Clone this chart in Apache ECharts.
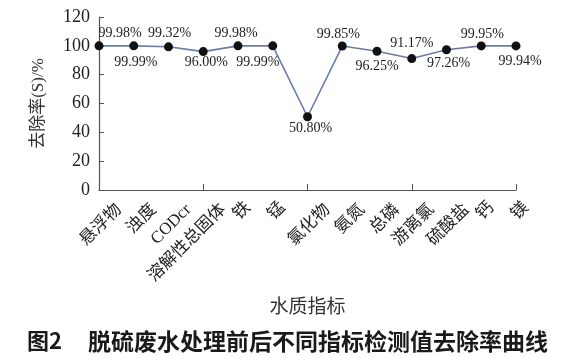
<!DOCTYPE html>
<html>
<head>
<meta charset="utf-8">
<script src="https://cdn.jsdelivr.net/npm/echarts@6/dist/echarts.min.js"></script>
<style>html,body{margin:0;padding:0;background:#fff;}#c{width:574px;height:358px;}</style>
</head>
<body>
<div id="c"></div>
<script>
const categories = ['悬浮物','浊度','CODcr','溶解性总固体','铁','锰','氯化物','氨氮','总磷','游离氯','硫酸盐','钙','镁'];
const removalRates = [99.98, 99.99, 99.32, 96.00, 99.98, 99.99, 50.80, 99.85, 96.25, 91.17, 97.26, 99.95, 99.94];
const yTicks = {min: 0, max: 120, interval: 20};
const yAxisName = '去除率(S)/%';
const xAxisName = '水质指标';
const captionNo = '图2';
const caption = '脱硫废水处理前后不同指标检测值去除率曲线';

// label placement (layout only): [dx, dy] from point centre
const labelOffsets = [[21,-13],[2,16],[1,-13],[3,11],[-2,-13],[-15,16],[3,12],[-4,-12],[0,15],[0,-15],[2,14],[1,-12],[4,15]];

const serif = "'Liberation Serif','Noto Sans CJK SC'";
const cjk = "'Noto Sans CJK SC'";
const axisColor = '#555';
const G = {left: 99, right: 58, top: 17, bottom: 168};
const S_LONG = 20, S_SHORT = 10;

function labelAxis(idx, fmt, margin) {
  return {
    type: 'category', gridIndex: idx, data: categories, boundaryGap: false,
    axisLine: {show: false}, axisTick: {show: false}, splitLine: {show: false},
    axisLabel: {rotate: 45, margin: margin, interval: 0, fontFamily: serif, fontSize: 17, color: '#222', formatter: fmt}
  };
}

const chart = echarts.init(document.getElementById('c'), null, {renderer: 'canvas'});
chart.setOption({
  backgroundColor: '#fff',
  animation: false,
  title: [
    {text: captionNo, left: 22, top: 325, textStyle: {fontFamily: cjk, fontSize: 22, fontWeight: 'bold', color: '#1a1a1a'}},
    {text: caption, left: 83, top: 325, textStyle: {fontFamily: cjk, fontSize: 23, fontWeight: 'bold', color: '#1a1a1a'}}
  ],
  grid: [
    {left: G.left, right: G.right, top: G.top, bottom: G.bottom},
    {left: G.left + S_LONG, right: G.right - S_LONG, top: G.top, bottom: G.bottom},
    {left: G.left + S_SHORT, right: G.right - S_SHORT, top: G.top, bottom: G.bottom}
  ],
  xAxis: [
    {
      type: 'category', gridIndex: 0, data: categories, boundaryGap: false,
      name: xAxisName, nameLocation: 'middle', nameGap: 106,
      nameTextStyle: {fontFamily: cjk, fontSize: 19, color: '#333'},
      axisLine: {lineStyle: {color: axisColor, width: 1.2}},
      axisTick: {inside: true, length: 6, lineStyle: {color: axisColor}},
      axisLabel: {show: false},
      splitLine: {show: false}
    },
    labelAxis(1, v => v.length > 1 ? v : '', 17),
    labelAxis(2, v => v.length === 1 ? v : '', 15)
  ],
  yAxis: [
    {
      type: 'value', gridIndex: 0, min: yTicks.min, max: yTicks.max, interval: yTicks.interval,
      name: yAxisName, nameLocation: 'middle', nameGap: 52, nameRotate: 90,
      nameTextStyle: {fontFamily: serif, fontSize: 17, color: '#333'},
      axisLine: {show: true, lineStyle: {color: axisColor, width: 1.2}},
      axisTick: {show: true, inside: true, length: 5, lineStyle: {color: axisColor}},
      axisLabel: {margin: 9, fontFamily: serif, fontSize: 18, color: '#222'},
      splitLine: {show: false}
    },
    {type: 'value', gridIndex: 1, min: yTicks.min, max: yTicks.max, show: false},
    {type: 'value', gridIndex: 2, min: yTicks.min, max: yTicks.max, show: false}
  ],
  series: [{
    type: 'line', xAxisIndex: 0, yAxisIndex: 0,
    data: removalRates.map((v, i) => ({
      value: v,
      label: {offset: labelOffsets[i]}
    })),
    symbol: 'circle', symbolSize: 9,
    itemStyle: {color: '#111'},
    lineStyle: {color: '#6a7aae', width: 1.6},
    label: {
      show: true, position: 'inside', fontFamily: serif, fontSize: 14, color: '#222',
      formatter: p => p.value.toFixed(2) + '%'
    }
  }]
});
</script>
</body>
</html>
